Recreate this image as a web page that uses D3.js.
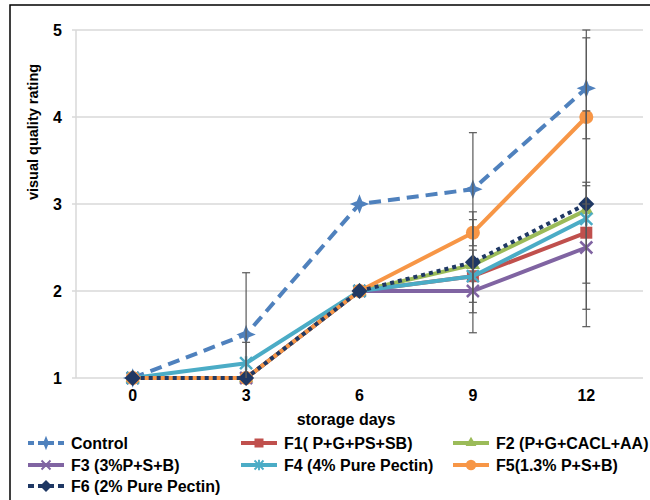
<!DOCTYPE html>
<html>
<head>
<meta charset="utf-8">
<script src="https://cdn.jsdelivr.net/npm/d3@7"></script>
<style>
  body { margin: 0; background: #fff; }
  text { font-family: "Liberation Sans", Arial, sans-serif; font-weight: bold; fill: #000; }
</style>
</head>
<body>
<svg id="chart" width="650" height="500"></svg>
<script>
// storage days (x categories)
let days = [0, 3, 6, 9, 12];
let yTicks = [1, 2, 3, 4, 5];

// mean visual quality rating per series
let control = [1, 1.5, 3, 3.17, 4.33];
let f1 = [1, 1, 2, 2.17, 2.67];
let f2 = [1, 1, 2, 2.3, 2.93];
let f3 = [1, 1, 2, 2, 2.5];
let f4 = [1, 1.17, 2, 2.17, 2.83];
let f5 = [1, 1, 2, 2.67, 4];
let f6 = [1, 1, 2, 2.33, 3];

// error (+/-) per series
let controlErr = [0, 0.71, 0, 0.65, 0.58];
let f1Err = [0, 0, 0, 0.3, 0.58];
let f2Err = [0, 0, 0, 0, 0];
let f3Err = [0, 0, 0, 0, 0.71];
let f4Err = [0, 0.24, 0, 0.65, 1.24];
let f5Err = [0, 0, 0, 0, 1.0];
let f6Err = [0, 0, 0, 0.58, 0];

let seriesNames = ['Control', 'F1( P+G+PS+SB)', 'F2 (P+G+CACL+AA)', 'F3 (3%P+S+B)',
                   'F4 (4% Pure Pectin)', 'F5(1.3% P+S+B)', 'F6 (2% Pure Pectin)'];

let series = [
  {name: seriesNames[0], values: control, err: controlErr, color: '#4F81BD', dash: '12,7', marker: 'star'},
  {name: seriesNames[1], values: f1, err: f1Err, color: '#C0504D', dash: null, marker: 'square'},
  {name: seriesNames[2], values: f2, err: f2Err, color: '#9BBB59', dash: null, marker: 'triangle'},
  {name: seriesNames[3], values: f3, err: f3Err, color: '#8064A2', dash: null, marker: 'x'},
  {name: seriesNames[4], values: f4, err: f4Err, color: '#4BACC6', dash: null, marker: 'asterisk'},
  {name: seriesNames[5], values: f5, err: f5Err, color: '#F79646', dash: null, marker: 'circle'},
  {name: seriesNames[6], values: f6, err: f6Err, color: '#1F3864', dash: '4,4', marker: 'diamond'}
];

let svg = d3.select('#chart');

// outer chart border
svg.append('rect')
  .attr('x', 10).attr('y', 5).attr('width', 660).attr('height', 520)
  .attr('fill', 'none').attr('stroke', '#000').attr('stroke-width', 1.5);

let plot = {left: 76, right: 643, top: 30, bottom: 378};

let x = d3.scaleBand().domain(days).range([plot.left, plot.right]);
let cx = d => x(d) + x.bandwidth() / 2;
let y = d3.scaleLinear().domain([1, 5]).range([plot.bottom, plot.top]);

svg.append('defs').append('clipPath').attr('id', 'plotClip')
  .append('rect')
  .attr('x', plot.left).attr('y', plot.top - 1)
  .attr('width', plot.right - plot.left).attr('height', plot.bottom - plot.top + 1);

// gridlines
svg.append('g').selectAll('line').data(yTicks).join('line')
  .attr('x1', plot.left - 4).attr('x2', plot.right)
  .attr('y1', d => y(d)).attr('y2', d => y(d))
  .attr('stroke', '#d9d9d9').attr('stroke-width', 1.5);

svg.append('line')
  .attr('x1', plot.left).attr('x2', plot.left)
  .attr('y1', plot.top).attr('y2', plot.bottom)
  .attr('stroke', '#d9d9d9').attr('stroke-width', 1.5);

let fontFam = '"Liberation Sans", Arial, sans-serif';

// y axis labels
let yAxis = d3.axisLeft(y).tickValues(yTicks).tickFormat(d3.format('d')).tickSize(0).tickPadding(14);
let yg = svg.append('g').attr('transform', `translate(${plot.left},0)`).call(yAxis);
yg.select('.domain').remove();
yg.selectAll('text').style('font-size', '16px').style('font-family', fontFam).style('font-weight', 'bold').attr('fill', '#000');

// x axis labels
let xAxis = d3.axisBottom(x).tickSize(0).tickPadding(12);
let xg = svg.append('g').attr('transform', `translate(0,${plot.bottom})`).call(xAxis);
xg.select('.domain').remove();
xg.selectAll('text').style('font-size', '16px').style('font-family', fontFam).style('font-weight', 'bold').attr('fill', '#000');

// axis titles
svg.append('text')
  .attr('x', 346).attr('y', 425)
  .attr('text-anchor', 'middle').style('font-size', '16px')
  .text('storage days');

svg.append('text')
  .attr('transform', 'translate(38,132) rotate(-90)')
  .attr('text-anchor', 'middle').style('font-size', '14.5px')
  .text('visual quality rating');

function drawMarker(g, type, color, px, py, k) {
  k = k || 1;
  if (type === 'star') {
    g.append('path').attr('transform', `translate(${px},${py}) scale(${k})`)
      .attr('d', 'M0,-7 L2,-2 L7,0 L2,2 L0,7 L-2,2 L-7,0 L-2,-2 Z')
      .attr('fill', color).attr('stroke', color).attr('stroke-width', 2);
  } else if (type === 'square') {
    g.append('rect').attr('x', px - 6 * k).attr('y', py - 6 * k).attr('width', 12 * k).attr('height', 12 * k)
      .attr('fill', color);
  } else if (type === 'triangle') {
    g.append('path').attr('transform', `translate(${px},${py}) scale(${k})`)
      .attr('d', d3.symbol(d3.symbolTriangle, 90)()).attr('fill', color);
  } else if (type === 'x') {
    g.append('path').attr('transform', `translate(${px},${py}) scale(${k})`)
      .attr('d', 'M-6,-6 L6,6 M-6,6 L6,-6')
      .attr('stroke', color).attr('stroke-width', 2.5).attr('fill', 'none');
  } else if (type === 'asterisk') {
    g.append('path').attr('transform', `translate(${px},${py}) scale(${k})`)
      .attr('d', 'M-6,-6 L6,6 M-6,6 L6,-6 M0,-7 L0,7')
      .attr('stroke', color).attr('stroke-width', 2.5).attr('fill', 'none');
  } else if (type === 'circle') {
    g.append('circle').attr('cx', px).attr('cy', py).attr('r', 7 * k).attr('fill', color);
  } else if (type === 'diamond') {
    g.append('path').attr('transform', `translate(${px},${py}) scale(${k})`)
      .attr('d', 'M0,-8 L8,0 L0,8 L-8,0 Z').attr('fill', color);
  }
}

let line = d3.line().x((d, i) => cx(days[i])).y(d => y(d));

let errLayer = svg.append('g').attr('clip-path', 'url(#plotClip)');

series.forEach(s => {
  let g = svg.append('g');

  // error bars
  s.values.forEach((v, i) => {
    if (!s.err[i]) return;
    let px = cx(days[i]);
    errLayer.append('line')
      .attr('x1', px).attr('x2', px)
      .attr('y1', y(v + s.err[i])).attr('y2', y(v - s.err[i]))
      .attr('stroke', '#595959').attr('stroke-width', 1.2);
    [v + s.err[i], v - s.err[i]].forEach(e => {
      errLayer.append('line')
        .attr('x1', px - 4).attr('x2', px + 4)
        .attr('y1', y(e)).attr('y2', y(e))
        .attr('stroke', '#595959').attr('stroke-width', 1.2);
    });
  });

  g.append('path')
    .datum(s.values)
    .attr('d', line)
    .attr('fill', 'none')
    .attr('stroke', s.color)
    .attr('stroke-width', 4)
    .attr('stroke-dasharray', s.dash)
    .attr('stroke-linejoin', 'round');

  s.values.forEach((v, i) => drawMarker(g, s.marker, s.color, cx(days[i]), y(v)));
});

errLayer.raise();

// legend
let legendCols = [28, 241, 453];
let legendRows = [443, 465, 486];

series.forEach((s, i) => {
  let lx = legendCols[i % 3];
  let ly = legendRows[Math.floor(i / 3)];
  let g = svg.append('g');
  g.append('line')
    .attr('x1', lx).attr('x2', lx + 36)
    .attr('y1', ly).attr('y2', ly)
    .attr('stroke', s.color).attr('stroke-width', 4)
    .attr('stroke-dasharray', s.dash ? '6,4' : null);
  drawMarker(g, s.marker, s.color, lx + 18, ly, 0.75);
  g.append('text')
    .attr('x', lx + 43).attr('y', ly + 6)
    .style('font-size', '16px')
    .text(s.name);
});
</script>
</body>
</html>
